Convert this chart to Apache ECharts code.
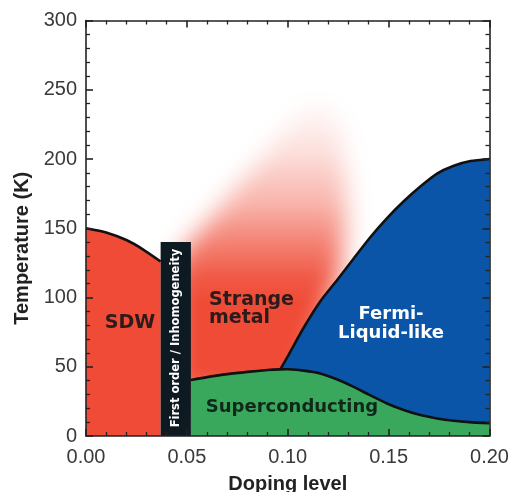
<!DOCTYPE html>
<html>
<head>
<meta charset="utf-8">
<script src="https://cdn.jsdelivr.net/npm/echarts@6/dist/echarts.min.js"></script>
<style>
  html, body { margin: 0; padding: 0; background: #ffffff; }
  #chart { width: 523px; height: 492px; }
</style>
</head>
<body>
<div id="chart"></div>
<script>
// Axis ranges and tick steps
const xRange = [0, 0.20];
const xStep = 0.05;
const yRange = [0, 300];
const yStep = 50;

// Phase boundaries: [doping, temperature (K)]
const sdwBoundary = [[0, 150], [0.01, 147], [0.02, 141.5], [0.028, 135], [0.037, 126]];
const firstOrderBand = [0.037, 0.052];
const firstOrderTop = 140;
const scBoundary = [
  [0.052, 40.4], [0.06, 42.5], [0.07, 44.7], [0.08, 46.3], [0.09, 47.6], [0.0963, 48.1],
  [0.10, 48.2], [0.108, 47.2], [0.116, 45.2], [0.124, 41.2], [0.1327, 35.5], [0.14, 30],
  [0.1492, 23.5], [0.1575, 18.8], [0.1658, 15.1], [0.174, 12.7], [0.1823, 11], [0.19, 10],
  [0.20, 9.3]
];
const flBoundary = [
  [0.0963, 48.1], [0.10, 57.5], [0.1078, 78], [0.116, 97], [0.1244, 112.5], [0.1326, 128],
  [0.1409, 143.5], [0.149, 157], [0.1575, 169.5], [0.166, 180.5], [0.174, 189.5],
  [0.182, 195], [0.1906, 198.5], [0.20, 200]
];
// Diffuse strange-metal crossover region
const strangeMetalHaze = [
  [0.043, 30], [0.043, 122], [0.050, 138], [0.060, 155], [0.072, 176], [0.085, 198],
  [0.097, 220], [0.107, 240], [0.114, 252], [0.120, 248], [0.125, 230], [0.128, 200],
  [0.129, 160], [0.126, 120], [0.116, 80], [0.105, 30]
];

const colors = {
  sdw: '#ef4b36',
  sc: '#3aa85c',
  fl: '#0b55a8',
  band: '#0e1a22',
  edge: '#111111'
};

const chart = echarts.init(document.getElementById('chart'), null, { renderer: 'canvas' });

function polyPoints(api, pts) {
  return pts.map(p => api.coord(p));
}

function renderPhases(params, api) {
  const children = [];
  const OFF = 3000;

  // Haze: drawn off-canvas so only its blurred shadow lands in the plot
  const hazePts = polyPoints(api, strangeMetalHaze).map(p => [p[0] + OFF, p[1]]);
  children.push({
    type: 'polygon',
    shape: { points: hazePts },
    style: {
      fill: new echarts.graphic.LinearGradient(0, 0, 0, 1, [
        { offset: 0.0, color: 'rgba(239,75,54,0.0)' },
        { offset: 0.08, color: 'rgba(239,75,54,0.05)' },
        { offset: 0.22, color: 'rgba(239,75,54,0.19)' },
        { offset: 0.38, color: 'rgba(239,75,54,0.42)' },
        { offset: 0.52, color: 'rgba(239,75,54,0.72)' },
        { offset: 0.62, color: 'rgba(239,75,54,0.92)' },
        { offset: 0.70, color: 'rgba(239,75,54,1)' },
        { offset: 1.0, color: 'rgba(239,75,54,1)' }
      ]),
      shadowBlur: 24,
      shadowColor: 'rgba(239,75,54,1)',
      shadowOffsetX: -OFF
    }
  });

  // SDW dome
  const sdwPts = [[0, 0]].concat(sdwBoundary, [[sdwBoundary[sdwBoundary.length - 1][0], 0]]);
  children.push({ type: 'polygon', shape: { points: polyPoints(api, sdwPts) }, style: { fill: colors.sdw } });

  // Superconducting dome
  const scPts = [[scBoundary[0][0], 0]].concat(scBoundary, [[scBoundary[scBoundary.length - 1][0], 0]]);
  children.push({ type: 'polygon', shape: { points: polyPoints(api, scPts) }, style: { fill: colors.sc } });

  // Fermi-liquid-like region: above the SC dome, below its crossover line
  const x0 = flBoundary[0][0];
  const scTail = scBoundary.filter(p => p[0] > x0).reverse();
  const flPts = flBoundary.concat(scTail);
  children.push({ type: 'polygon', shape: { points: polyPoints(api, flPts) }, style: { fill: colors.fl } });

  // First-order / inhomogeneity band
  const bl = api.coord([firstOrderBand[0], 0]);
  const tr = api.coord([firstOrderBand[1], firstOrderTop]);
  children.push({
    type: 'rect',
    shape: { x: bl[0], y: tr[1], width: tr[0] - bl[0], height: bl[1] - tr[1] },
    style: { fill: colors.band }
  });

  // Boundary lines
  [sdwBoundary, scBoundary, flBoundary].forEach(line => {
    children.push({
      type: 'polyline',
      shape: { points: polyPoints(api, line), smooth: 0.2 },
      style: { stroke: colors.edge, lineWidth: 2.6, fill: null, lineJoin: 'round' }
    });
  });

  return { type: 'group', children };
}

function frameLine() { return { show: true, onZero: false, lineStyle: { color: '#222', width: 1.6 } }; }
function majorTick() { return { show: true, inside: true, length: 7, lineStyle: { color: '#222', width: 1.6 } }; }
function minorTick() { return { show: true, splitNumber: 5, length: 4, lineStyle: { color: '#222', width: 1.3 } }; }
function tickLabels(extra) {
  return Object.assign({ fontFamily: 'Liberation Sans', fontSize: 20, color: '#3a3a3a' }, extra);
}
function frameAxis(position) {
  return {
    type: 'value', position: position, z: 10,
    axisLine: frameLine(), axisTick: majorTick(), minorTick: minorTick(),
    splitLine: { show: false }, axisLabel: { show: false }
  };
}

const option = {
  backgroundColor: '#ffffff',
  animation: false,
  grid: { left: 86, right: 33.5, top: 20.5, bottom: 56, containLabel: false, outerBoundsMode: 'none' },
  xAxis: [
    Object.assign(frameAxis('bottom'), {
      min: xRange[0], max: xRange[1], interval: xStep,
      axisLabel: tickLabels({ margin: 11, formatter: v => v.toFixed(2) }),
      name: 'Doping level', nameLocation: 'middle', nameGap: 38,
      nameTextStyle: { fontFamily: 'Liberation Sans', fontWeight: 'bold', fontSize: 20, color: '#222' }
    }),
    Object.assign(frameAxis('top'), { min: xRange[0], max: xRange[1], interval: xStep })
  ],
  yAxis: [
    Object.assign(frameAxis('left'), {
      min: yRange[0], max: yRange[1], interval: yStep,
      axisLabel: tickLabels({ margin: 9 }),
      name: 'Temperature (K)', nameLocation: 'middle', nameGap: 42, nameRotate: 90,
      nameTextStyle: { fontFamily: 'Liberation Sans', fontWeight: 'bold', fontSize: 20, color: '#222', padding: [0, 40, 0, 0] }
    }),
    Object.assign(frameAxis('right'), { min: yRange[0], max: yRange[1], interval: yStep })
  ],
  series: [
    {
      type: 'custom',
      xAxisIndex: 0, yAxisIndex: 0,
      data: [0],
      renderItem: renderPhases,
      silent: true,
      z: 1
    }
  ],
  graphic: [
    {
      type: 'text', x: 130, y: 323, z: 10,
      style: { text: 'SDW', fontFamily: 'DejaVu Sans', fontWeight: 'bold', fontSize: 19, fill: '#2b1b1b', align: 'center', verticalAlign: 'middle' }
    },
    {
      type: 'text', x: 209, y: 309, z: 10,
      style: { text: 'Strange\nmetal', fontFamily: 'DejaVu Sans', fontWeight: 'bold', fontSize: 19, lineHeight: 18, fill: '#2b1b1b', align: 'left', verticalAlign: 'middle' }
    },
    {
      type: 'text', x: 391, y: 324, z: 10,
      style: { text: 'Fermi-\nLiquid-like', fontFamily: 'DejaVu Sans', fontWeight: 'bold', fontSize: 18, lineHeight: 19, fill: '#ffffff', align: 'center', verticalAlign: 'middle' }
    },
    {
      type: 'text', x: 292, y: 407, z: 10,
      style: { text: 'Superconducting', fontFamily: 'DejaVu Sans', fontWeight: 'bold', fontSize: 18, fill: '#10281a', align: 'center', verticalAlign: 'middle' }
    },
    {
      type: 'text', x: 176.5, y: 338, rotation: Math.PI / 2, z: 10,
      style: { text: 'First order / Inhomogeneity', fontFamily: 'DejaVu Sans', fontWeight: 'bold', fontSize: 11.5, fill: '#ffffff', align: 'center', verticalAlign: 'middle' }
    }
  ]
};

chart.setOption(option);
</script>
</body>
</html>
